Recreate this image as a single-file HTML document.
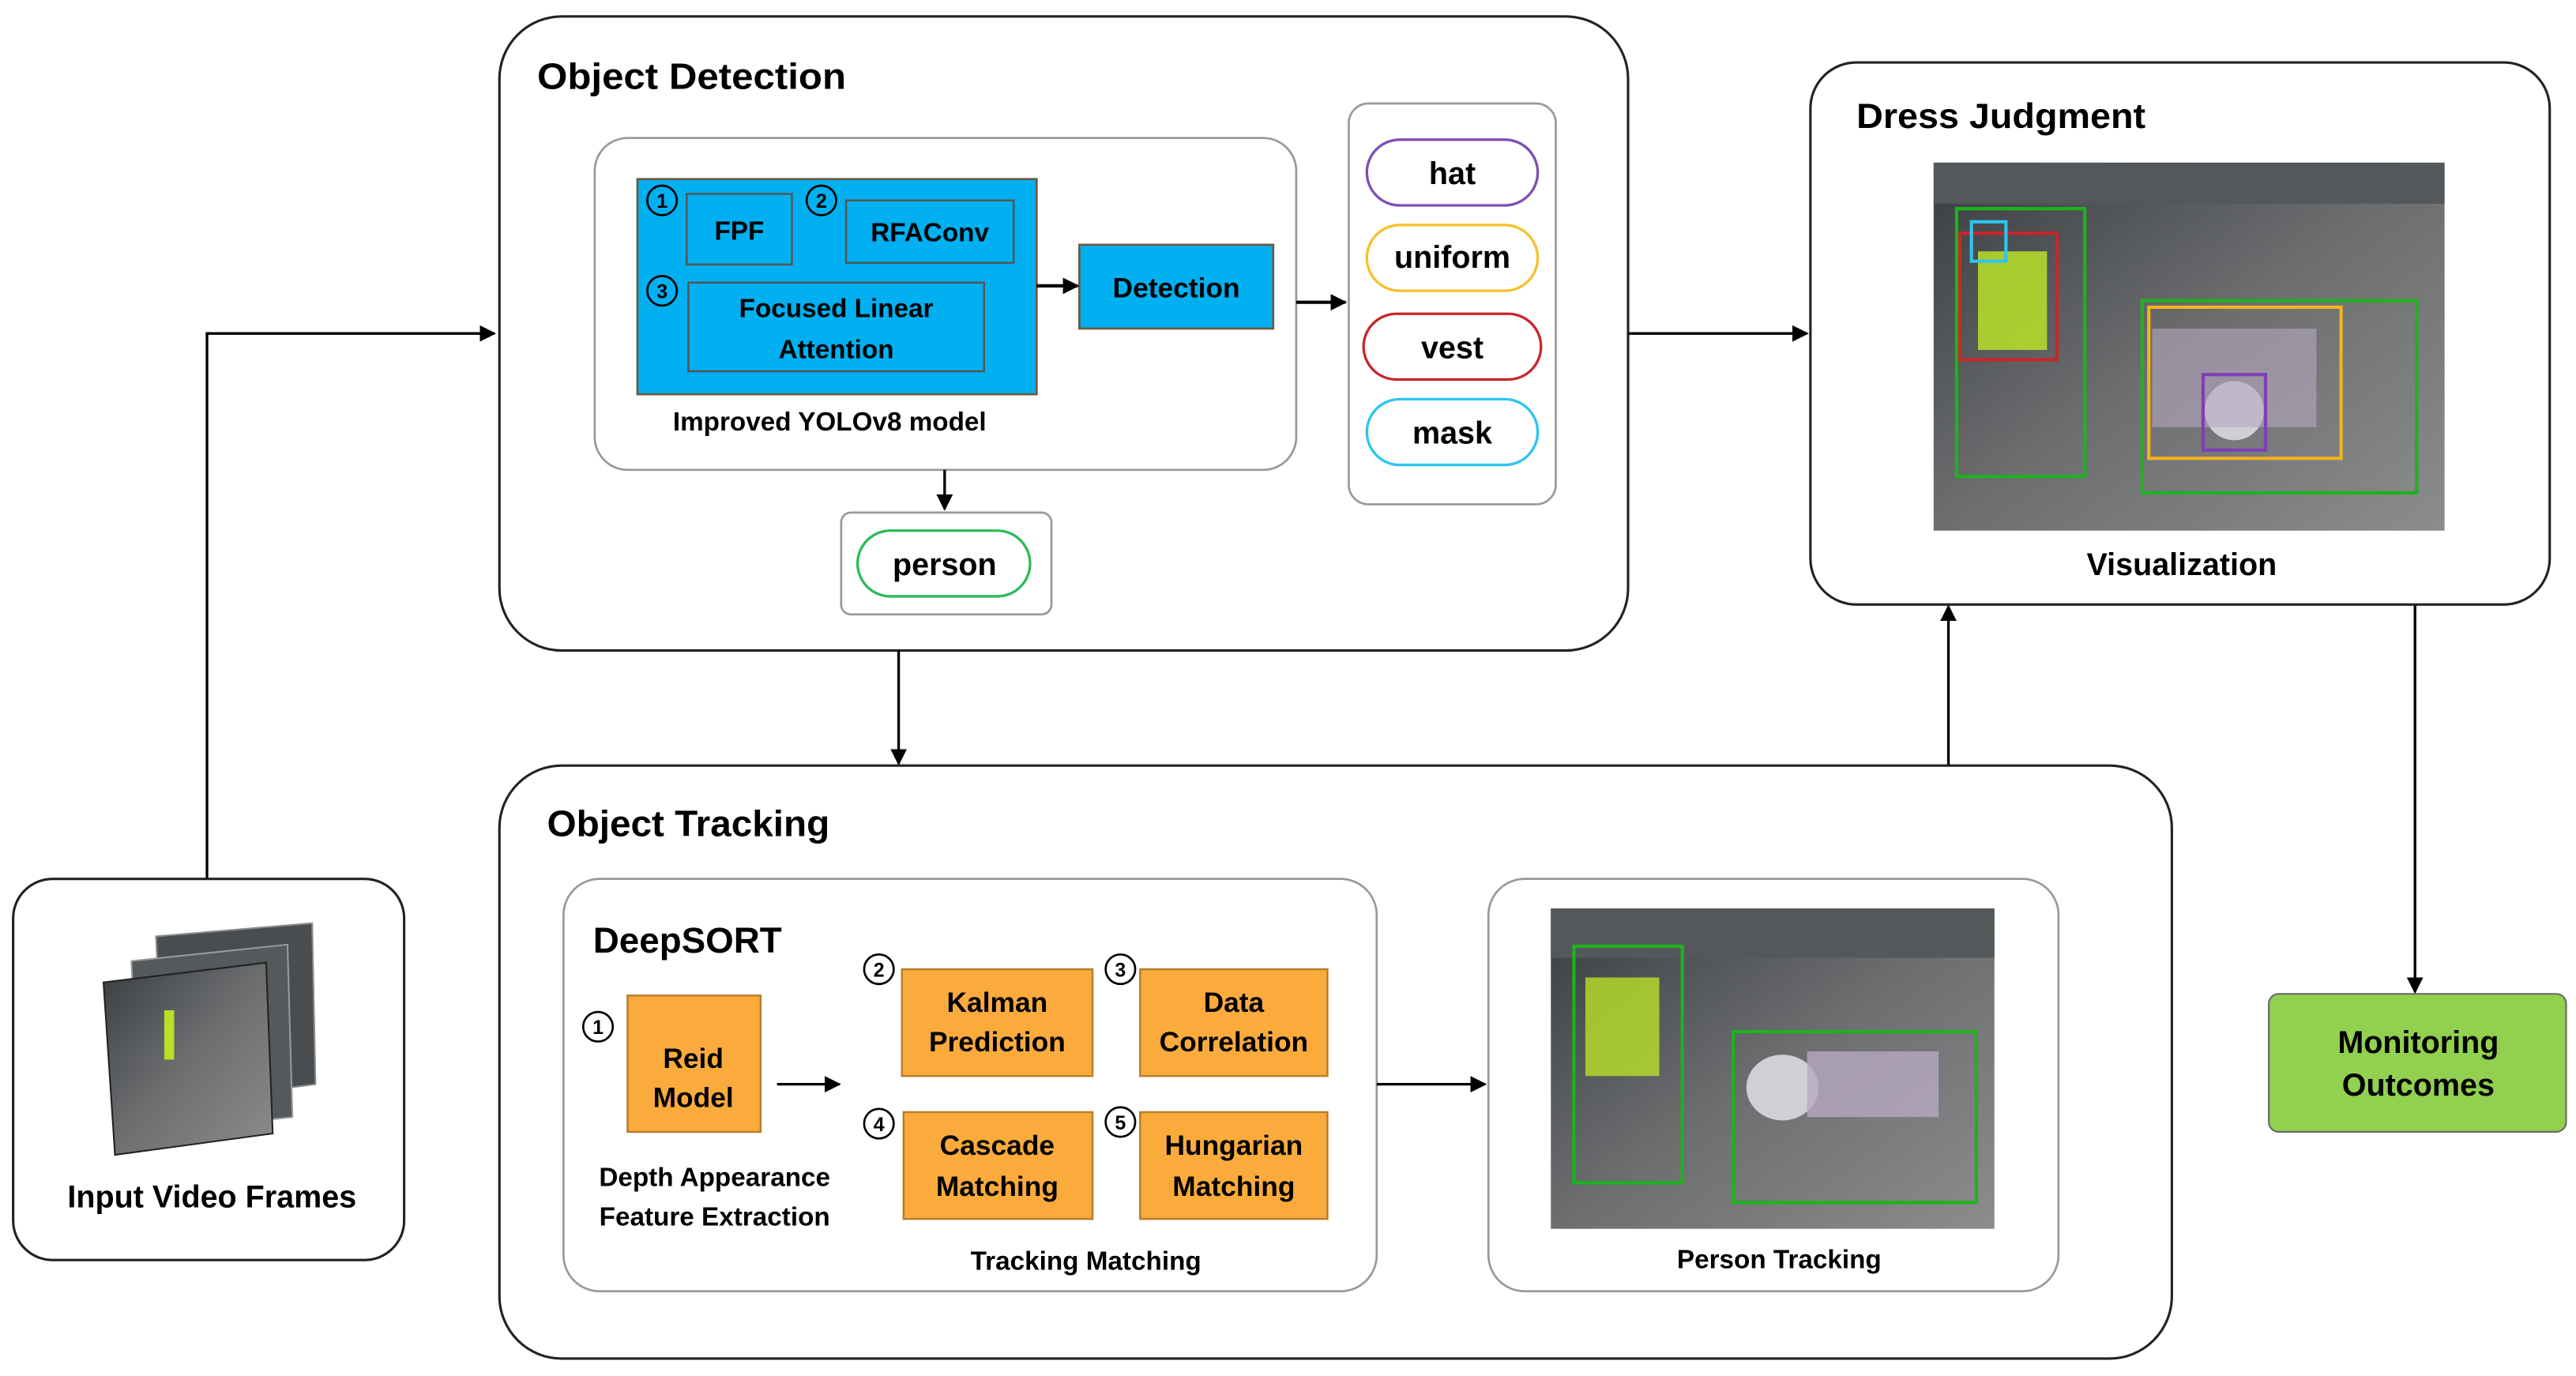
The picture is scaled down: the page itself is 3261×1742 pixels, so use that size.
<!DOCTYPE html>
<html><head><meta charset="utf-8"><style>
html,body{margin:0;padding:0;background:#fff;}
svg{display:block;}
text{font-family:"Liberation Sans",sans-serif;font-weight:bold;fill:#000;}
</style></head><body>
<svg width="3261" height="1742" viewBox="0 0 1568 837.6" xmlns="http://www.w3.org/2000/svg">
<defs>
<marker id="a" markerWidth="10" markerHeight="10" refX="9" refY="5" orient="auto" markerUnits="userSpaceOnUse">
<path d="M0,0 L10,5 L0,10 z" fill="#000"/></marker>
<linearGradient id="img" x1="0" y1="0" x2="1" y2="1"><stop offset="0" stop-color="#3a3d40"/><stop offset="0.5" stop-color="#6c6e70"/><stop offset="1" stop-color="#8a8c8e"/></linearGradient>
</defs>

<!-- Object Detection -->
<rect x="304" y="10" width="687" height="386" rx="38" fill="#fff" stroke="#222" stroke-width="1.5"/>
<text x="327" y="54" font-size="22.5" textLength="188" lengthAdjust="spacingAndGlyphs">Object Detection</text>
<rect x="362" y="84" width="427" height="202" rx="20" fill="#fff" stroke="#999" stroke-width="1.3"/>
<rect x="388" y="109" width="243" height="131" fill="#00b0f0" stroke="#6b5a40" stroke-width="1.3"/>
<rect x="418" y="118" width="64" height="43" fill="none" stroke="#555" stroke-width="1.2"/>
<text x="450" y="146" font-size="16" text-anchor="middle">FPF</text>
<rect x="515" y="122" width="102" height="38" fill="none" stroke="#555" stroke-width="1.2"/>
<text x="566" y="147" font-size="16" text-anchor="middle">RFAConv</text>
<rect x="419" y="172" width="180" height="54" fill="none" stroke="#555" stroke-width="1.2"/>
<text x="509" y="193" font-size="16" text-anchor="middle">Focused Linear</text>
<text x="509" y="218" font-size="16" text-anchor="middle">Attention</text>
<g font-size="12" text-anchor="middle">
<circle cx="403" cy="122" r="9" fill="none" stroke="#000" stroke-width="1.3"/><text x="403" y="126.5" font-size="12">1</text>
<circle cx="500" cy="122" r="9" fill="none" stroke="#000" stroke-width="1.3"/><text x="500" y="126.5" font-size="12">2</text>
<circle cx="403" cy="177" r="9" fill="none" stroke="#000" stroke-width="1.3"/><text x="403" y="181.5" font-size="12">3</text>
</g>
<rect x="657" y="149" width="118" height="51" fill="#00b0f0" stroke="#6b5a40" stroke-width="1.3"/>
<text x="716" y="181" font-size="17" text-anchor="middle">Detection</text>
<line x1="631" y1="174" x2="656" y2="174" stroke="#000" stroke-width="2" marker-end="url(#a)"/>
<text x="505" y="262" font-size="16" text-anchor="middle">Improved YOLOv8 model</text>
<line x1="789" y1="184" x2="819" y2="184" stroke="#000" stroke-width="2" marker-end="url(#a)"/>
<rect x="821" y="63" width="126" height="244" rx="12" fill="#fff" stroke="#999" stroke-width="1.3"/>
<rect x="832" y="85" width="104" height="40" rx="20" fill="#fff" stroke="#7e4fb5" stroke-width="1.6"/>
<text x="884" y="112" font-size="19" text-anchor="middle">hat</text>
<rect x="832" y="137" width="104" height="40" rx="20" fill="#fff" stroke="#f5c12e" stroke-width="1.6"/>
<text x="884" y="163" font-size="19" text-anchor="middle">uniform</text>
<rect x="830" y="191" width="108" height="40" rx="20" fill="#fff" stroke="#c8262c" stroke-width="1.6"/>
<text x="884" y="218" font-size="19" text-anchor="middle">vest</text>
<rect x="832" y="243" width="104" height="40" rx="20" fill="#fff" stroke="#2ec5f0" stroke-width="1.6"/>
<text x="884" y="270" font-size="19" text-anchor="middle">mask</text>
<line x1="575" y1="286" x2="575" y2="310" stroke="#000" stroke-width="1.6" marker-end="url(#a)"/>
<rect x="512" y="312" width="128" height="62" rx="6" fill="#fff" stroke="#999" stroke-width="1.3"/>
<rect x="522" y="323" width="105" height="40" rx="20" fill="#fff" stroke="#2dbb5a" stroke-width="1.6"/>
<text x="575" y="350" font-size="19" text-anchor="middle">person</text>

<!-- connectors -->
<line x1="547" y1="396" x2="547" y2="465" stroke="#000" stroke-width="1.6" marker-end="url(#a)"/>
<polyline points="126,535 126,203 301,203" fill="none" stroke="#000" stroke-width="1.6" marker-end="url(#a)"/>
<line x1="991" y1="203" x2="1100" y2="203" stroke="#000" stroke-width="1.6" marker-end="url(#a)"/>
<line x1="1186" y1="466" x2="1186" y2="369" stroke="#000" stroke-width="1.6" marker-end="url(#a)"/>
<line x1="1470" y1="368" x2="1470" y2="604" stroke="#000" stroke-width="1.6" marker-end="url(#a)"/>

<!-- Object Tracking -->
<rect x="304" y="466" width="1018" height="361" rx="38" fill="#fff" stroke="#222" stroke-width="1.5"/>
<text x="333" y="509" font-size="22.5" textLength="172" lengthAdjust="spacingAndGlyphs">Object Tracking</text>
<rect x="343" y="535" width="495" height="251" rx="22" fill="#fff" stroke="#999" stroke-width="1.3"/>
<text x="361" y="580" font-size="22">DeepSORT</text>
<g stroke="#b87f2a" stroke-width="1.2" fill="#fbab3c">
<rect x="382" y="606" width="81" height="83"/>
<rect x="549" y="590" width="116" height="65"/>
<rect x="694" y="590" width="114" height="65"/>
<rect x="550" y="677" width="115" height="65"/>
<rect x="694" y="677" width="114" height="65"/>
</g>
<g font-size="17" text-anchor="middle">
<text x="422" y="650">Reid</text><text x="422" y="674">Model</text>
<text x="607" y="616">Kalman</text><text x="607" y="640">Prediction</text>
<text x="751" y="616">Data</text><text x="751" y="640">Correlation</text>
<text x="607" y="703">Cascade</text><text x="607" y="728">Matching</text>
<text x="751" y="703">Hungarian</text><text x="751" y="728">Matching</text>
</g>
<g text-anchor="middle">
<circle cx="364" cy="625" r="9" fill="#fff" stroke="#000" stroke-width="1.3"/><text x="364" y="629.5" font-size="12">1</text>
<circle cx="535" cy="590" r="9" fill="#fff" stroke="#000" stroke-width="1.3"/><text x="535" y="594.5" font-size="12">2</text>
<circle cx="682" cy="590" r="9" fill="#fff" stroke="#000" stroke-width="1.3"/><text x="682" y="594.5" font-size="12">3</text>
<circle cx="535" cy="684" r="9" fill="#fff" stroke="#000" stroke-width="1.3"/><text x="535" y="688.5" font-size="12">4</text>
<circle cx="682" cy="683" r="9" fill="#fff" stroke="#000" stroke-width="1.3"/><text x="682" y="687.5" font-size="12">5</text>
</g>
<line x1="473" y1="660" x2="511" y2="660" stroke="#000" stroke-width="1.6" marker-end="url(#a)"/>
<text x="435" y="722" font-size="16" text-anchor="middle">Depth Appearance</text>
<text x="435" y="746" font-size="16" text-anchor="middle">Feature Extraction</text>
<text x="661" y="773" font-size="16" text-anchor="middle">Tracking Matching</text>
<line x1="838" y1="660" x2="904" y2="660" stroke="#000" stroke-width="1.6" marker-end="url(#a)"/>
<rect x="906" y="535" width="347" height="251" rx="22" fill="#fff" stroke="#999" stroke-width="1.3"/>
<rect x="944" y="553" width="270" height="195" fill="url(#img)"/>
<rect x="944" y="553" width="270" height="30" fill="#55585a"/>
<rect x="958" y="576" width="66" height="144" fill="none" stroke="#1db31d" stroke-width="2"/>
<rect x="965" y="595" width="45" height="60" fill="#b9e028" opacity="0.8"/>
<rect x="1055" y="628" width="148" height="104" fill="none" stroke="#1db31d" stroke-width="2"/>
<ellipse cx="1085" cy="662" rx="22" ry="20" fill="#cfcfd5"/>
<rect x="1100" y="640" width="80" height="40" fill="#b6a9c0" opacity="0.8"/>
<text x="1083" y="772" font-size="16" text-anchor="middle">Person Tracking</text>

<!-- Input -->
<rect x="8" y="535" width="238" height="232" rx="24" fill="#fff" stroke="#222" stroke-width="1.5"/>
<g>
<polygon points="95,570 190,562 192,660 100,672" fill="#4a4d50" stroke="#888" stroke-width="1"/>
<polygon points="80,585 175,575 178,680 85,690" fill="#55595c" stroke="#999" stroke-width="1"/>
<polygon points="63,598 162,586 166,690 70,703" fill="url(#img)" stroke="#222" stroke-width="1"/>
<rect x="100" y="615" width="6" height="30" fill="#b9e028"/>
</g>
<text x="129" y="735" font-size="19" text-anchor="middle">Input Video Frames</text>

<!-- Dress Judgment -->
<rect x="1102" y="38" width="450" height="330" rx="28" fill="#fff" stroke="#222" stroke-width="1.5"/>
<text x="1130" y="78" font-size="21.5" textLength="176" lengthAdjust="spacingAndGlyphs">Dress Judgment</text>
<rect x="1177" y="99" width="311" height="224" fill="url(#img)"/>
<rect x="1177" y="99" width="311" height="25" fill="#55585a"/>
<rect x="1204" y="153" width="42" height="60" fill="#b9e028" opacity="0.85"/>
<ellipse cx="1360" cy="250" rx="18" ry="18" fill="#cfcfd5"/>
<rect x="1310" y="200" width="100" height="60" fill="#b6a9c0" opacity="0.6"/>
<rect x="1191" y="127" width="78" height="163" fill="none" stroke="#1db31d" stroke-width="2"/>
<rect x="1193" y="142" width="59" height="77" fill="none" stroke="#c8262c" stroke-width="2"/>
<rect x="1200" y="135" width="21" height="24" fill="none" stroke="#2ec5f0" stroke-width="2"/>
<rect x="1304" y="183" width="167" height="117" fill="none" stroke="#1db31d" stroke-width="2"/>
<rect x="1308" y="187" width="117" height="92" fill="none" stroke="#f5b41e" stroke-width="2"/>
<rect x="1341" y="228" width="38" height="46" fill="none" stroke="#7e3fb5" stroke-width="2"/>
<text x="1328" y="350" font-size="19" text-anchor="middle">Visualization</text>

<!-- Monitoring -->
<rect x="1381" y="605" width="181" height="84" rx="6" fill="#92d050" stroke="#666" stroke-width="1"/>
<text x="1472" y="641" font-size="19" text-anchor="middle">Monitoring</text>
<text x="1472" y="667" font-size="19" text-anchor="middle">Outcomes</text>
</svg>
</body></html>
